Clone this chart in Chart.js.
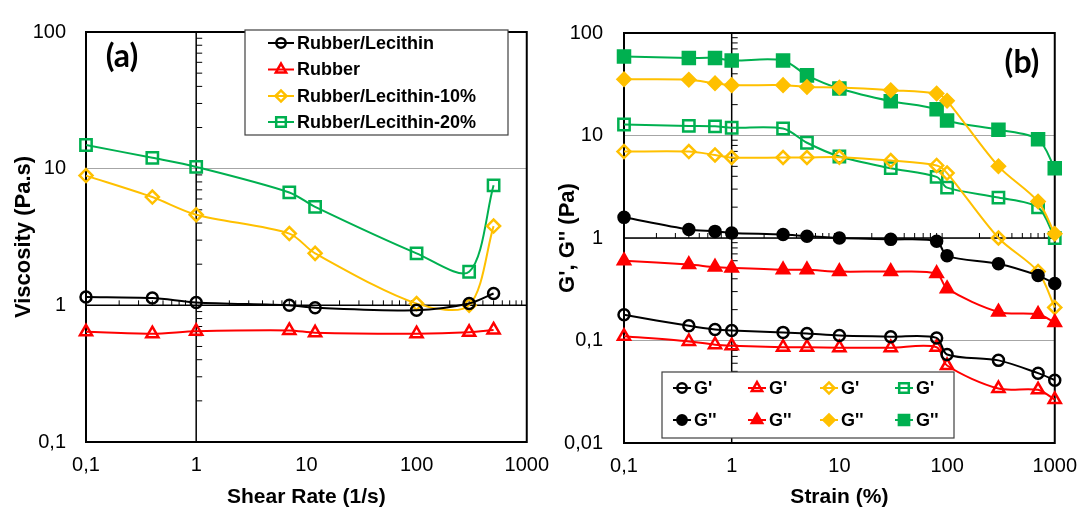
<!DOCTYPE html>
<html>
<head>
<meta charset="utf-8">
<script src="https://cdn.jsdelivr.net/npm/chart.js@4.4.0/dist/chart.umd.min.js"></script>
<style>
    html, body { margin: 0; padding: 0; background: #ffffff; }
    #wrap { position: relative; width: 1088px; height: 510px; overflow: hidden; background: #ffffff; }
    canvas { position: absolute; top: 0; }
    #chartA { left: 0; }
    #chartB { left: 540px; }
</style>
</head>
<body>
<div id="wrap">
    <canvas id="chartA" width="560" height="510"></canvas>
    <canvas id="chartB" width="548" height="510"></canvas>
</div>
<script>
// panel (a): viscosity vs shear rate
const shearRate = [0.1, 0.4, 1, 7, 12, 100, 300, 500];
const viscRubberLecithin = [1.15, 1.13, 1.05, 1.0, 0.96, 0.92, 1.03, 1.22];
const viscRubber = [0.64, 0.62, 0.645, 0.655, 0.63, 0.62, 0.635, 0.66];
const viscLecithin10 = [8.9, 6.2, 4.6, 3.35, 2.4, 1.03, 1.0, 3.8];
const viscLecithin20 = [14.9, 12.0, 10.3, 6.7, 5.25, 2.4, 1.76, 7.55];
const seriesNamesA = ['Rubber/Lecithin', 'Rubber', 'Rubber/Lecithin-10%', 'Rubber/Lecithin-20%'];

// panel (b): G', G'' vs strain
const strain = [0.1, 0.4, 0.7, 1, 3, 5, 10, 30, 80, 100, 300, 700, 1000];
const rlGp = [0.178, 0.139, 0.128, 0.125, 0.12, 0.117, 0.112, 0.109, 0.106, 0.073, 0.064, 0.048, 0.041];
const rlGpp = [1.59, 1.21, 1.16, 1.12, 1.08, 1.04, 1.0, 0.97, 0.93, 0.67, 0.56, 0.43, 0.36];
const rGp = [0.11, 0.098, 0.091, 0.089, 0.086, 0.086, 0.085, 0.085, 0.086, 0.057, 0.034, 0.033, 0.0265];
const rGpp = [0.6, 0.55, 0.52, 0.51, 0.49, 0.49, 0.47, 0.47, 0.45, 0.32, 0.19, 0.18, 0.15];
const l10Gp = [6.97, 6.97, 6.46, 6.1, 6.1, 6.1, 6.15, 5.7, 5.1, 4.3, 1.0, 0.47, 0.21];
const l10Gpp = [35.3, 35, 32.3, 31, 31, 29.8, 29.4, 27.7, 25.7, 21.8, 5.0, 2.27, 1.1];
const l20Gp = [12.8, 12.4, 12.3, 11.9, 11.7, 8.5, 6.24, 4.8, 3.95, 3.1, 2.48, 1.99, 1.0];
const l20Gpp = [59, 57, 57, 54, 54, 38.6, 28.7, 21.6, 18, 14, 11.4, 9.2, 4.8];
const seriesNamesB = ["G'", "G''"];

const xTicks = [0.1, 1, 10, 100, 1000];
const yTicksA = [0.1, 1, 10, 100];
const yTicksB = [0.01, 0.1, 1, 10, 100];

document.addEventListener('DOMContentLoaded', function () {
    const fontFamily = "'Liberation Sans', Arial, sans-serif";
    const colors = { black: '#000000', red: '#ff0000', yellow: '#ffc000', green: '#00b050' };
    const none = 'rgba(0,0,0,0)';

    function fmt(v) {
        return String(v).replace('.', ',');
    }

    function series(label, xs, ys, color, style, radius, filled) {
        return {
            label: label,
            data: xs.map(function (x, i) { return { x: x, y: ys[i] }; }),
            borderColor: color,
            backgroundColor: color,
            borderWidth: 2,
            pointStyle: style,
            pointRadius: radius,
            pointHoverRadius: radius,
            pointBorderWidth: 2.5,
            pointBorderColor: color,
            pointBackgroundColor: filled ? color : none,
            tension: 0.3,
            fill: false,
            clip: false
        };
    }

    function logX(title, height) {
        return {
            type: 'logarithmic',
            min: 0.1,
            max: 1000,
            afterBuildTicks: function (s) { s.ticks = xTicks.map(function (v) { return { value: v }; }); },
            afterFit: function (s) { s.height = height; },
            ticks: {
                autoSkip: false, maxRotation: 0, padding: 11, color: '#000',
                font: { family: fontFamily, size: 20 },
                callback: function (v) { return fmt(v); }
            },
            grid: { display: false, drawTicks: false, tickLength: 0 },
            border: { display: true, color: '#000', width: 2 },
            title: {
                display: true, text: title, color: '#000',
                font: { family: fontFamily, size: 21, weight: 'bold' },
                padding: { top: 0, bottom: 0 }
            }
        };
    }

    function logY(title, min, max, list, width, tickPad, titlePad) {
        return {
            type: 'logarithmic',
            min: min,
            max: max,
            afterBuildTicks: function (s) { s.ticks = list.map(function (v) { return { value: v }; }); },
            afterFit: function (s) { s.width = width; },
            ticks: {
                autoSkip: false, padding: tickPad, color: '#000',
                font: { family: fontFamily, size: 20 },
                callback: function (v) { return fmt(v); }
            },
            grid: { color: '#a6a6a6', lineWidth: 1, drawTicks: false, tickLength: 0 },
            border: { display: true, color: '#000', width: 2 },
            title: {
                display: true, text: title, color: '#000',
                font: { family: fontFamily, size: 22, weight: 'bold' },
                padding: { top: titlePad, bottom: 0 }
            }
        };
    }

    function marker(ctx, style, radius, x, y, color, filled) {
        ctx.save();
        ctx.strokeStyle = color;
        ctx.fillStyle = filled ? color : none;
        ctx.lineWidth = 2.5;
        Chart.helpers.drawPoint(ctx, { pointStyle: style, radius: radius, rotation: 0, borderWidth: 2.5 }, x, y);
        ctx.restore();
    }

    function line(ctx, x1, y1, x2, y2) {
        ctx.beginPath();
        ctx.moveTo(x1, y1);
        ctx.lineTo(x2, y2);
        ctx.stroke();
    }

    // frame, axes crossing at 1 with minor ticks, panel letter, legend
    const decor = {
        id: 'decor',
        beforeDatasetsDraw: function (chart) {
            const ctx = chart.ctx;
            const area = chart.chartArea;
            const xs = chart.scales.x, ys = chart.scales.y;
            const cx = xs.getPixelForValue(1), cy = ys.getPixelForValue(1);
            ctx.save();
            ctx.strokeStyle = '#000';
            ctx.lineWidth = 2;
            ctx.strokeRect(area.left, area.top, area.right - area.left, area.bottom - area.top);
            ctx.lineWidth = 1.5;
            line(ctx, cx, area.top, cx, area.bottom);
            line(ctx, area.left, cy, area.right, cy);
            ctx.lineWidth = 1;
            for (let d = ys.min; d < ys.max * 0.999; d *= 10) {
                for (let m = 2; m <= 9; m++) {
                    const py = ys.getPixelForValue(m * d);
                    line(ctx, cx, py, cx + 6, py);
                }
            }
            for (let d = xs.min; d < xs.max * 0.999; d *= 10) {
                for (let m = 2; m <= 9; m++) {
                    const px = xs.getPixelForValue(m * d);
                    line(ctx, px, cy, px, cy - 5);
                }
            }
            ctx.restore();
        },
        afterDraw: function (chart, args, opts) {
            const ctx = chart.ctx;
            ctx.save();
            ctx.fillStyle = '#000';
            ctx.font = "bold 32px Lato, 'Liberation Sans', sans-serif";
            ctx.textAlign = 'center';
            ctx.textBaseline = 'middle';
            ctx.fillText(opts.letter, opts.letterX, opts.letterY);

            const lg = opts.legend;
            ctx.fillStyle = '#ffffff';
            ctx.fillRect(lg.x, lg.y, lg.w, lg.h);
            ctx.strokeStyle = '#404040';
            ctx.lineWidth = 1.2;
            ctx.strokeRect(lg.x, lg.y, lg.w, lg.h);
            ctx.font = 'bold 18px ' + fontFamily;
            ctx.textAlign = 'left';
            lg.items.forEach(function (it) {
                const ds = chart.data.datasets[it.index];
                ctx.strokeStyle = ds.borderColor;
                ctx.lineWidth = 2;
                line(ctx, it.x, it.y, it.x + lg.lineLen, it.y);
                marker(ctx, ds.pointStyle, ds.pointRadius * 0.85, it.x + lg.lineLen / 2, it.y,
                    ds.borderColor, ds.pointBackgroundColor !== none);
                ctx.fillStyle = '#000';
                ctx.fillText(ds.label, it.x + lg.lineLen + 3, it.y + 1);
            });
            ctx.restore();
        }
    };

    new Chart(document.getElementById('chartA').getContext('2d'), {
        type: 'line',
        data: {
            datasets: [
                series(seriesNamesA[0], shearRate, viscRubberLecithin, colors.black, 'circle', 5.5, false),
                series(seriesNamesA[1], shearRate, viscRubber, colors.red, 'triangle', 7, false),
                series(seriesNamesA[2], shearRate, viscLecithin10, colors.yellow, 'rectRot', 6.5, false),
                series(seriesNamesA[3], shearRate, viscLecithin20, colors.green, 'rect', 8, false)
            ]
        },
        options: {
            responsive: false,
            animation: false,
            layout: { padding: { left: 0, right: 33, top: 24, bottom: 0 } },
            scales: {
                x: logX('Shear Rate (1/s)', 68),
                y: logY('Viscosity (Pa.s)', 0.1, 100, yTicksA, 86, 20, 11)
            },
            plugins: {
                legend: { display: false },
                tooltip: { enabled: false },
                decor: {
                    letter: '(a)', letterX: 122, letterY: 57,
                    legend: {
                        x: 245, y: 30, w: 263, h: 105, lineLen: 26,
                        items: [
                            { index: 0, x: 268, y: 43 },
                            { index: 1, x: 268, y: 69.5 },
                            { index: 2, x: 268, y: 96 },
                            { index: 3, x: 268, y: 122 }
                        ]
                    }
                }
            }
        },
        plugins: [decor]
    });

    new Chart(document.getElementById('chartB').getContext('2d'), {
        type: 'line',
        data: {
            datasets: [
                series(seriesNamesB[0], strain, rlGp, colors.black, 'circle', 5.5, false),
                series(seriesNamesB[1], strain, rlGpp, colors.black, 'circle', 5.5, true),
                series(seriesNamesB[0], strain, rGp, colors.red, 'triangle', 7, false),
                series(seriesNamesB[1], strain, rGpp, colors.red, 'triangle', 7, true),
                series(seriesNamesB[0], strain, l10Gp, colors.yellow, 'rectRot', 6.5, false),
                series(seriesNamesB[1], strain, l10Gpp, colors.yellow, 'rectRot', 6.5, true),
                series(seriesNamesB[0], strain, l20Gp, colors.green, 'rect', 8, false),
                series(seriesNamesB[1], strain, l20Gpp, colors.green, 'rect', 8.5, true)
            ]
        },
        options: {
            responsive: false,
            animation: false,
            layout: { padding: { left: 0, right: 26, top: 28, bottom: 0 } },
            scales: {
                x: logX('Strain (%)', 67),
                y: logY("G', G'' (Pa)", 0.01, 100, yTicksB, 84, 21, 15)
            },
            plugins: {
                legend: { display: false },
                tooltip: { enabled: false },
                decor: {
                    letter: '(b)', letterX: 482, letterY: 63,
                    legend: {
                        x: 122, y: 372, w: 292, h: 66, lineLen: 18,
                        items: [
                            { index: 0, x: 133, y: 388 },
                            { index: 1, x: 133, y: 420 },
                            { index: 2, x: 208, y: 388 },
                            { index: 3, x: 208, y: 420 },
                            { index: 4, x: 280, y: 388 },
                            { index: 5, x: 280, y: 420 },
                            { index: 6, x: 355, y: 388 },
                            { index: 7, x: 355, y: 420 }
                        ]
                    }
                }
            }
        },
        plugins: [decor]
    });
});
</script>
</body>
</html>
